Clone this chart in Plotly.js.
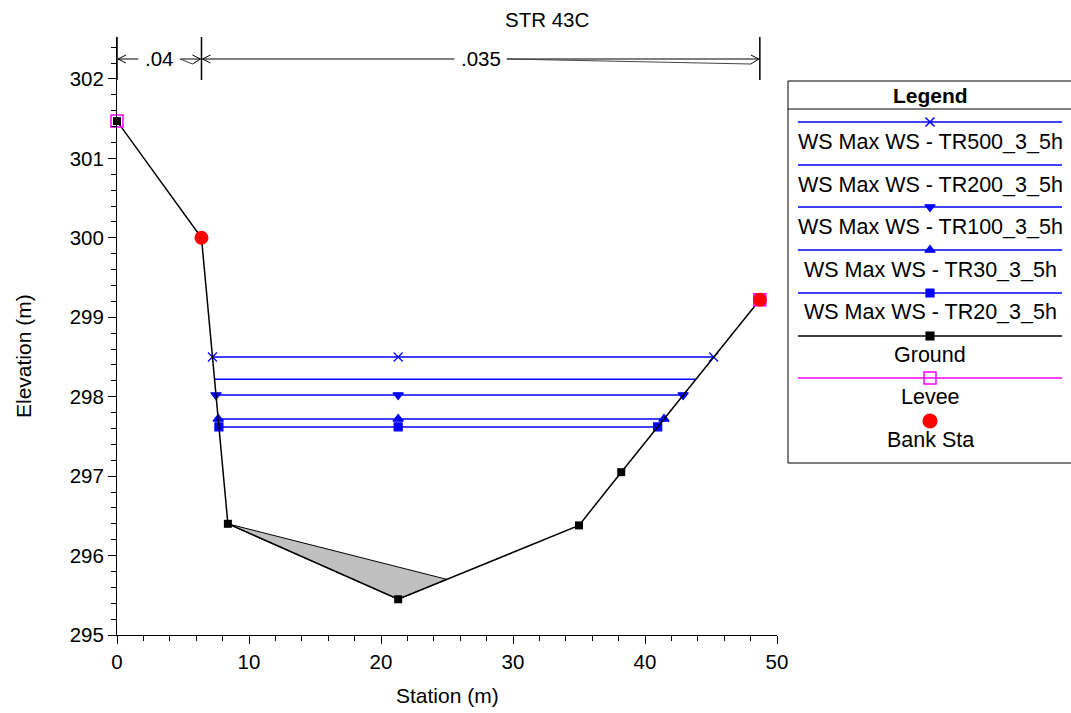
<!DOCTYPE html>
<html>
<head>
<meta charset="utf-8">
<script src="https://cdn.plot.ly/plotly-3.0.1.min.js"></script>
<style>html,body{margin:0;padding:0;background:#fff;}#chart{width:1071px;height:713px;}</style>
</head>
<body>
<div id="chart"></div>
<script>
// ---------------- data ----------------
const chartTitle = 'STR 43C';
const groundStation = [0, 6.4, 8.4, 21.3, 35.0, 38.2, 48.7];
const groundElev    = [301.47, 300.0, 296.4, 295.45, 296.38, 297.05, 299.22];
const leveeStation = [0, 48.7];
const leveeElev    = [301.47, 299.22];
const bankStation = [6.4, 48.7];
const bankElev    = [300.0, 299.22];
const sedStation = [8.4, 21.3, 25.0, 8.4];
const sedElev    = [296.4, 295.45, 295.70, 296.4];
const ws500Station = [7.23, 21.3, 45.2];
const ws500Elev    = [298.50, 298.50, 298.50];
const ws200Station = [7.39, 21.3, 43.86];
const ws200Elev    = [298.22, 298.22, 298.22];
const ws100Station = [7.5, 21.3, 42.89];
const ws100Elev    = [298.02, 298.02, 298.02];
const ws30Station  = [7.67, 21.3, 41.44];
const ws30Elev     = [297.72, 297.72, 297.72];
const ws20Station  = [7.72, 21.3, 40.96];
const ws20Elev     = [297.62, 297.62, 297.62];
const nStations = [0, 6.4, 48.7];
const nValues   = ['.04', '.035'];
const legendNames = ['WS Max WS - TR500_3_5h','WS Max WS - TR200_3_5h','WS Max WS - TR100_3_5h',
                     'WS Max WS - TR30_3_5h','WS Max WS - TR20_3_5h','Ground','Levee','Bank Sta'];
const xTickVals = [0, 10, 20, 30, 40, 50];
const yTickVals = [295, 296, 297, 298, 299, 300, 301, 302];

// ---------------- layout helpers ----------------
const FONT = 'Liberation Sans, Arial, sans-serif';
const W = 1071, H = 713, ML = 117, MT = 37, MB = 78;
const PW = W - ML, PH = H - MT - MB;
const plotRightPx = 777;
const px2pX = p => (p - ML) / PW;
const px2pY = p => (H - MB - p) / PH;
const xRange = [0, 50], yRange = [295, 295 + PH / 79.43];
const pxPerUnit = (plotRightPx - ML) / (xRange[1] - xRange[0]);

const blue = '#0000ff';
const traces = [];
// sediment / fill polygon
traces.push({x: sedStation, y: sedElev, mode: 'lines', fill: 'toself', fillcolor: '#c0c0c0',
  line: {color: '#000', width: 1}, hoverinfo: 'skip'});
const ws = [
  [ws500Station, ws500Elev, 'x-thin-open', 9],
  [ws200Station, ws200Elev, null, 0],
  [ws100Station, ws100Elev, 'triangle-down', 9],
  [ws30Station, ws30Elev, 'triangle-up', 9],
  [ws20Station, ws20Elev, 'square', 8]
];
ws.forEach(w => {
  traces.push({x: w[0], y: w[1], mode: w[2] ? 'lines+markers' : 'lines', cliponaxis: false,
    line: {color: blue, width: 1.5},
    marker: {symbol: w[2] || 'circle', size: w[3], color: blue, line: {color: blue, width: 1.2}}});
});
traces.push({x: groundStation, y: groundElev, mode: 'lines+markers', cliponaxis: false, line: {color: '#000', width: 1.5},
  marker: {symbol: 'square', size: 8, color: '#000'}});
traces.push({x: leveeStation, y: leveeElev, mode: 'markers', cliponaxis: false,
  marker: {symbol: 'square-open', size: 12, color: '#ff00ff', line: {color: '#ff00ff', width: 1.5}}});
traces.push({x: bankStation, y: bankElev, mode: 'markers', cliponaxis: false, marker: {symbol: 'circle', size: 14, color: '#ff0000'}});

// ---------------- custom legend (drawn on a hidden pixel axis) ----------------
const legLeft = 788, legRight = 1071, legTop = 81, legBottom = 463, legSep = 109;
const legLineY = [122, 165, 207, 250, 293, 336, 378, null];
const legTextY = [142, 185, 227, 270, 312, 355, 397, 440];
const legMarkerX = 930, legLineX0 = 798, legLineX1 = 1062;
const legStyles = [
  {c: blue, s: 'x-thin-open', sz: 9}, {c: blue, s: null}, {c: blue, s: 'triangle-down', sz: 9},
  {c: blue, s: 'triangle-up', sz: 9}, {c: blue, s: 'square', sz: 8}, {c: '#000', s: 'square', sz: 8},
  {c: '#ff00ff', s: 'square-open', sz: 12}, {c: '#ff0000', s: 'circle', sz: 14, noLine: true}
];
const annotations = [];
legStyles.forEach((st, i) => {
  if (!st.noLine) {
    traces.push({x: [legLineX0, legLineX1], y: [legLineY[i], legLineY[i]], xaxis: 'x2', yaxis: 'y2',
      mode: 'lines', line: {color: st.c, width: 1.5}, hoverinfo: 'skip'});
  }
  if (st.s) {
    const y = st.noLine ? 421 : legLineY[i];
    traces.push({x: [legMarkerX], y: [y], xaxis: 'x2', yaxis: 'y2', mode: 'markers', hoverinfo: 'skip', cliponaxis: false,
      marker: {symbol: st.s, size: st.sz, color: st.c, line: {color: st.c, width: st.s.indexOf('open') >= 0 ? 1.5 : 1.2}}});
  }
  annotations.push({x: legMarkerX, y: legTextY[i], xref: 'x2', yref: 'y2', text: legendNames[i], showarrow: false,
    xanchor: 'center', yanchor: 'middle', font: {family: FONT, size: 21.5, color: '#000'}});
});
annotations.push({x: legMarkerX, y: (legTop + legSep) / 2 + 0.5, xref: 'x2', yref: 'y2', text: '<b>Legend</b>',
  showarrow: false, xanchor: 'center', yanchor: 'middle', font: {family: FONT, size: 21, color: '#000'}});

// titles
annotations.push({x: px2pX(547), y: px2pY(20), xref: 'paper', yref: 'paper', text: chartTitle, showarrow: false,
  xanchor: 'center', yanchor: 'middle', font: {family: FONT, size: 20.5, color: '#000'}});
annotations.push({x: px2pX(447), y: px2pY(695), xref: 'paper', yref: 'paper', text: 'Station (m)', showarrow: false,
  xanchor: 'center', yanchor: 'middle', font: {family: FONT, size: 21, color: '#000'}});
annotations.push({x: px2pX(23), y: px2pY(356), xref: 'paper', yref: 'paper', text: 'Elevation (m)', showarrow: false,
  textangle: -90, xanchor: 'center', yanchor: 'middle', font: {family: FONT, size: 21, color: '#000'}});

// ---------------- Manning's n markers ----------------
const shapes = [];
const yArrow = px2pY(59);
const vTop = 1.0, vBot = px2pY(80);
nStations.forEach(s => {
  shapes.push({type: 'line', xref: 'x', yref: 'paper', x0: s, x1: s, y0: vBot, y1: vTop, line: {color: '#000', width: 1.5}});
});
const lineStyle = {color: '#000', width: 1};
for (let i = 0; i < nValues.length; i++) {
  const a = nStations[i], b = nStations[i + 1], mid = (a + b) / 2;
  const halfW = nValues[i].length * 5.3 + 1;
  const gap = 4 / pxPerUnit;
  const tl = mid - halfW / pxPerUnit - gap, tr = mid + halfW / pxPerUnit + gap;
  annotations.push({x: mid, y: yArrow, xref: 'x', yref: 'paper', text: nValues[i], showarrow: false,
    xanchor: 'center', yanchor: 'middle', font: {family: FONT, size: 20.5, color: '#000'}});
  shapes.push({type: 'line', xref: 'x', yref: 'paper', x0: a + 1 / pxPerUnit, x1: tl, y0: yArrow, y1: yArrow, line: lineStyle});
  shapes.push({type: 'line', xref: 'x', yref: 'paper', x0: tr, x1: b - 1 / pxPerUnit, y0: yArrow, y1: yArrow, line: lineStyle});
  shapes.push({type: 'line', xref: 'x', yref: 'paper', x0: tr, x1: b - 9 / pxPerUnit, y0: yArrow, y1: yArrow - 5 / PH, line: {color: '#444', width: 1}});
  shapes.push({type: 'path', xref: 'x', yref: 'paper', xsizemode: 'pixel', ysizemode: 'pixel', xanchor: a, yanchor: yArrow,
    path: 'M 9,4 L 1,0 L 9,-4', line: lineStyle});
  shapes.push({type: 'path', xref: 'x', yref: 'paper', xsizemode: 'pixel', ysizemode: 'pixel', xanchor: b, yanchor: yArrow,
    path: 'M -9,4 L -1,0 L -9,-5', line: lineStyle});
}
// legend box
shapes.push({type: 'rect', xref: 'paper', yref: 'paper', x0: px2pX(legLeft), x1: px2pX(legRight + 5),
  y0: px2pY(legBottom), y1: px2pY(legTop), line: {color: '#000', width: 1}, fillcolor: 'rgba(0,0,0,0)'});
shapes.push({type: 'line', xref: 'paper', yref: 'paper', x0: px2pX(legLeft), x1: px2pX(legRight + 5),
  y0: px2pY(legSep), y1: px2pY(legSep), line: {color: '#000', width: 1}});

const tickFont = {family: FONT, size: 20.5, color: '#000'};
const layout = {
  width: W, height: H, showlegend: false,
  paper_bgcolor: '#fff', plot_bgcolor: '#fff',
  margin: {l: ML, r: 0, t: MT, b: MB, pad: 0},
  xaxis: {domain: [0, px2pX(plotRightPx)], range: xRange, tickvals: xTickVals, ticktext: xTickVals.map(String),
    showgrid: false, zeroline: false, showline: true, linecolor: '#000', linewidth: 1,
    ticks: 'outside', ticklen: 8, tickcolor: '#000', tickfont: tickFont,
    minor: {dtick: 2, ticks: 'outside', ticklen: 5, tickcolor: '#000', showgrid: false}},
  yaxis: {domain: [0, 1], range: yRange, tickvals: yTickVals, ticktext: yTickVals.map(String),
    showgrid: false, zeroline: false, showline: true, linecolor: '#000', linewidth: 1,
    ticks: 'outside', ticklen: 8, tickcolor: '#000', tickfont: tickFont,
    minor: {dtick: 0.2, ticks: 'outside', ticklen: 5, tickcolor: '#000', showgrid: false}},
  xaxis2: {domain: [px2pX(legLeft), 1], range: [legLeft, legRight], visible: false, fixedrange: true, anchor: 'y2'},
  yaxis2: {domain: [px2pY(legBottom), px2pY(legTop)], range: [legBottom, legTop], visible: false, fixedrange: true, anchor: 'x2'},
  annotations: annotations,
  shapes: shapes
};
Plotly.newPlot('chart', traces, layout, {displayModeBar: false, staticPlot: true});
</script>
</body>
</html>
